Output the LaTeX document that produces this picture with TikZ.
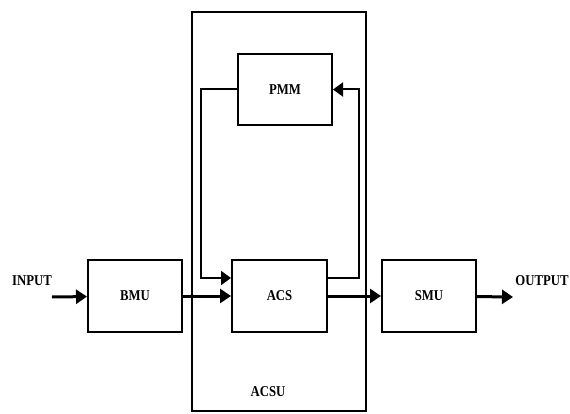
\documentclass[tikz,border=0pt]{standalone}
\usepackage{fontspec}
\setmainfont[FakeStretch=0.85]{Liberation Serif}
\usetikzlibrary{arrows.meta}

\begin{document}
\begin{tikzpicture}[
  x=1pt, y=-1pt,
  box/.style={rectangle, draw, line width=2pt, minimum width=94pt, minimum height=72pt, font=\bfseries\fontsize{15}{17}\selectfont, inner sep=0pt},
  lbl/.style={font=\bfseries\fontsize{15}{17}\selectfont, inner sep=0pt},
  main/.style={-{Triangle[length=11pt,width=14pt]}, line width=3pt},
  fb/.style={-{Triangle[length=10pt,width=14pt]}, line width=2pt}
]
\useasboundingbox (0,0) rectangle (570,414);

% Outer unit
\node[draw, line width=2pt, minimum width=174pt, minimum height=399pt, inner sep=0pt] (acsu) at (279,211.5) {};
\node[lbl] (acsulabel) at (268,392) {ACSU};

% Blocks
\node[box] (bmu) at (135,296) {BMU};
\node[box, minimum width=95pt] (acs) at (279.5,296) {ACS};
\node[box] (smu) at (429,296) {SMU};
\node[box, minimum height=71pt] (pmm) at (285,89.5) {PMM};

% Input and output
\node[lbl] (inlabel) at (32,281) {INPUT};
\node[lbl] (outlabel) at (542,281) {OUTPUT};
\coordinate (in) at (52,297);
\coordinate (out) at (513,297);

% Main path
\draw[main] (in) -- (bmu);
\draw[main] (bmu) -- (acs);
\draw[main] (acs) -- (smu);
\draw[main] (smu) -- (out);

% Feedback loop
\draw[fb] (pmm.west) -- ++(-36,0) |- ([yshift=18pt]acs.west);
\draw[fb] ([yshift=18pt]acs.east) -- ++(31,0) |- (pmm.east);

\end{tikzpicture}
\end{document}
